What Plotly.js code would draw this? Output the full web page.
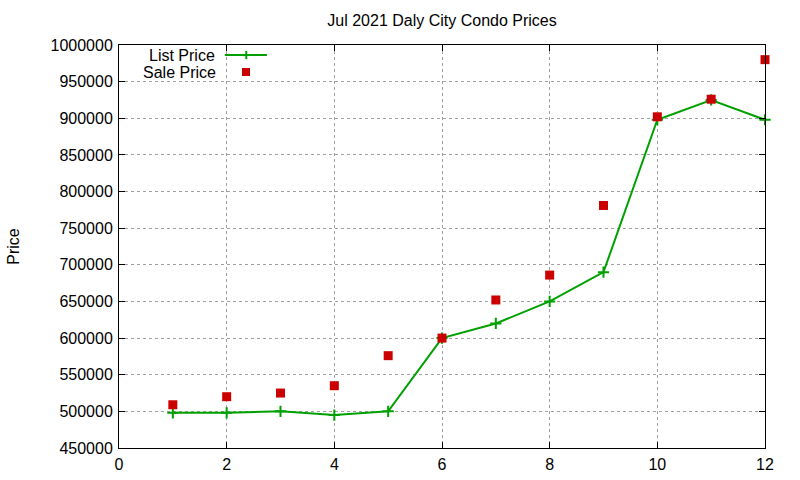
<!DOCTYPE html>
<html>
<head>
<meta charset="utf-8">
<script src="https://cdn.plot.ly/plotly-3.0.1.min.js"></script>
<style>
  html, body { margin: 0; padding: 0; background: #fff; }
  #chart { width: 800px; height: 480px; }
</style>
</head>
<body>
<div id="chart"></div>
<script>
// values
var months = [1, 2, 3, 4, 5, 6, 7, 8, 9, 10, 11, 12];
var listPrice = [498000, 498000, 500000, 495000, 500000, 600000, 620000, 650000, 690000, 898000, 925000, 898000];
var salePrice = [509000, 520000, 525000, 535000, 576000, 600000, 652000, 686000, 781000, 902000, 926000, 980000];
var xTicks = [0, 2, 4, 6, 8, 10, 12];

var green = '#00a000';
var red = '#cc0000';
var font = 'Liberation Sans, Arial, sans-serif';

var trace1 = {
  x: months,
  y: listPrice,
  name: 'List Price',
  type: 'scatter',
  mode: 'lines+markers',
  line: {color: green, width: 2},
  marker: {symbol: 'cross-thin', size: 8, line: {color: green, width: 2}},
  cliponaxis: false
};

var trace2 = {
  x: months,
  y: salePrice,
  name: 'Sale Price',
  type: 'scatter',
  mode: 'markers',
  marker: {symbol: 'square', size: 9, color: red},
  cliponaxis: false
};

var axisCommon = {
  showline: true,
  linecolor: '#000',
  linewidth: 1,
  mirror: 'ticks',
  ticks: 'inside',
  ticklen: 6,
  tickcolor: '#000',
  showgrid: true,
  gridcolor: '#a0a0a0',
  griddash: 'dot',
  gridwidth: 1,
  zeroline: false,
  tickfont: {family: font, size: 16, color: '#000'}
};

var layout = {
  width: 800,
  height: 480,
  margin: {l: 119, r: 35, t: 45, b: 32},
  paper_bgcolor: '#fff',
  plot_bgcolor: '#fff',
  showlegend: false,
  font: {family: font, size: 16, color: '#000'},
  title: {
    text: 'Jul 2021 Daly City Condo Prices',
    font: {family: font, size: 16, color: '#000'},
    x: 0.5525, xanchor: 'center',
    y: 0.958, yanchor: 'middle'
  },
  xaxis: Object.assign({}, axisCommon, {
    range: [0, 12],
    tickvals: xTicks,
    ticklabelstandoff: 2
  }),
  yaxis: Object.assign({}, axisCommon, {
    range: [450000, 1000000],
    dtick: 50000,
    tickformat: 'd',
    ticklabelstandoff: 2,
    title: {text: 'Price', standoff: 26, font: {family: font, size: 16, color: '#000'}}
  }),
  // gnuplot style key: text on the left, sample on the right
  annotations: [
    {text: 'List Price', xref: 'paper', yref: 'paper', x: 0.152, y: 0.975, height: 16,
     xanchor: 'right', yanchor: 'middle', showarrow: false, font: {family: font, size: 16, color: '#000'}},
    {text: 'Sale Price', xref: 'paper', yref: 'paper', x: 0.153, y: 0.933, height: 16,
     xanchor: 'right', yanchor: 'middle', showarrow: false, font: {family: font, size: 16, color: '#000'}}
  ],
  shapes: [
    {type: 'line', xref: 'paper', yref: 'paper', x0: 0.164, x1: 0.229, y0: 0.975, y1: 0.975,
     line: {color: green, width: 2}},
    {type: 'line', xref: 'paper', yref: 'paper', x0: 0.197, x1: 0.197, y0: 0.965, y1: 0.985,
     line: {color: green, width: 2}},
    {type: 'rect', xref: 'paper', yref: 'paper', x0: 0.1904, x1: 0.2028, y0: 0.9231, y1: 0.9429,
     fillcolor: red, line: {width: 0}}
  ]
};

Plotly.newPlot('chart', [trace1, trace2], layout, {displayModeBar: false, staticPlot: true});
</script>
</body>
</html>
